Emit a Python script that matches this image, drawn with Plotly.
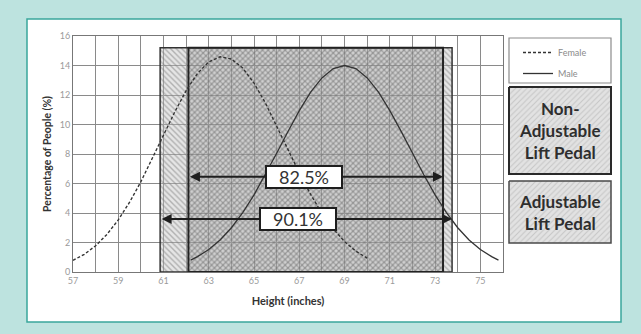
import plotly.graph_objects as go

# ---------------- data ----------------
female_x = [57, 57.5, 58, 58.5, 59, 59.5, 60, 60.5, 61, 61.5, 62, 62.5, 63, 63.5,
            64, 64.5, 65, 65.5, 66, 66.5, 67, 67.5, 68, 68.5, 69, 69.5, 70]
female_y = [0.79, 1.20, 1.78, 2.55, 3.53, 4.73, 6.12, 7.66, 9.28, 10.86, 12.30, 13.46, 14.25, 14.59,
            14.44, 13.83, 12.80, 11.46, 9.92, 8.30, 6.72, 5.26, 3.98, 2.92, 2.06, 1.41, 0.94]

male_x = [62.2, 62.5, 63, 63.5, 64, 64.5, 65, 65.5, 66, 66.5, 67, 67.5, 68, 68.5, 69,
          69.5, 70, 70.5, 71, 71.5, 72, 72.5, 73, 73.5, 74, 74.5, 75, 75.5, 75.8]
male_y = [0.81, 1.04, 1.53, 2.17, 3.00, 4.03, 5.23, 6.59, 8.05, 9.53, 10.94, 12.19, 13.16, 13.79, 14.0,
          13.79, 13.16, 12.19, 10.94, 9.53, 8.05, 6.59, 5.23, 4.03, 3.00, 2.17, 1.53, 1.04, 0.81]

adjustable_range = [60.85, 73.75]       # inches
non_adjustable_range = [62.1, 73.35]    # inches
pedal_top = 15.2                        # %
coverage_labels = ["82.5%", "90.1%"]
coverage_levels = [6.45, 3.6]           # arrow heights (%)
coverage_label_x = [67.2, 66.93]

x_ticks = [57, 59, 61, 63, 65, 67, 69, 71, 73, 75]
y_ticks = [0, 2, 4, 6, 8, 10, 12, 14, 16]

# ---------------- layout geometry (pixels) ----------------
W, H = 641, 334
L, R, T, B = 73, 612, 36, 272          # plot area incl. side panel
MAIN_R = 503                           # right edge of chart area
PW, PH = R - L, B - T

def fx(px):
    return (px - L) / PW

def fy(py):
    return (B - py) / PH

FONT = "Lato"

fig = go.Figure()

# adjustable pedal region (single diagonal hatch)
ax0, ax1 = adjustable_range
fig.add_trace(go.Scatter(
    x=[ax0, ax1, ax1, ax0, ax0], y=[0, 0, pedal_top, pedal_top, 0],
    mode="lines", fill="toself", line=dict(color="#333333", width=1.5),
    fillcolor="rgba(190,190,190,0.35)",
    fillpattern=dict(shape="\\", fgcolor="#7c7c7c", bgcolor="rgba(190,190,190,0.4)",
                     size=4, solidity=0.35),
    showlegend=False, hoverinfo="skip"))

# non-adjustable pedal region (adds other diagonal -> crosshatch)
nx0, nx1 = non_adjustable_range
fig.add_trace(go.Scatter(
    x=[nx0, nx1, nx1, nx0, nx0], y=[0, 0, pedal_top, pedal_top, 0],
    mode="lines", fill="toself", line=dict(color="#222222", width=2),
    fillcolor="rgba(0,0,0,0)",
    fillpattern=dict(shape="/", fgcolor="#707070", bgcolor="rgba(140,140,140,0.25)",
                     size=4, solidity=0.35),
    showlegend=False, hoverinfo="skip"))

# distributions
fig.add_trace(go.Scatter(x=female_x, y=female_y, mode="lines", name="Female",
                         legendgroup="f",
                         line=dict(color="#333333", width=1.4, dash="3px,2px")))
fig.add_trace(go.Scatter(x=male_x, y=male_y, mode="lines", name="Male",
                         legendgroup="m",
                         line=dict(color="#333333", width=1.3)))

# side-panel boxes on a pixel-scaled overlay axis
side_boxes = [
    dict(y0=87, y1=174, text="Non-<br>Adjustable<br>Lift Pedal", border="#2a2a2a", bw=2),
    dict(y0=181, y1=243, text="Adjustable<br>Lift Pedal", border="#4a4a4a", bw=1.5),
]
for bx in side_boxes:
    fig.add_trace(go.Scatter(
        x=[509, 611, 611, 509, 509], y=[bx["y0"], bx["y0"], bx["y1"], bx["y1"], bx["y0"]],
        xaxis="x2", yaxis="y2", mode="lines", fill="toself",
        line=dict(color=bx["border"], width=bx["bw"]),
        fillcolor="rgba(230,230,230,1)",
        fillpattern=dict(shape="/", fgcolor="#a8a8a8", bgcolor="#e2e2e2", size=4, solidity=0.25),
        showlegend=False, hoverinfo="skip"))

annotations = []
for bx in side_boxes:
    annotations.append(dict(
        x=560, y=(bx["y0"] + bx["y1"]) / 2, xref="x2", yref="y2", text="<b>" + bx["text"] + "</b>",
        showarrow=False, font=dict(family=FONT, size=17, color="#2e2e2e"), align="center"))

# coverage arrows (double headed)
arrow_ranges = [non_adjustable_range, adjustable_range]
for (a0, a1), lvl, lab, lx in zip(arrow_ranges, coverage_levels, coverage_labels, coverage_label_x):
    annotations.append(dict(
        x=a1, y=lvl, ax=a0, ay=lvl, xref="x", yref="y", axref="x", ayref="y",
        text="", showarrow=True, arrowhead=2, arrowsize=1, arrowwidth=2,
        arrowside="end+start", arrowcolor="#1e1e1e", standoff=0, startstandoff=0))
    annotations.append(dict(
        x=lx, y=lvl, xref="x", yref="y", text=lab, showarrow=False,
        font=dict(family=FONT, size=18, color="#333333"),
        bgcolor="white", bordercolor="#1e1e1e", borderwidth=2, borderpad=1,
        width=72, height=18))

shapes = [
    # white inner panel with teal border
    dict(type="rect", xref="paper", yref="paper", x0=fx(27), x1=fx(621), y0=fy(322), y1=fy(19),
         fillcolor="white", line=dict(color="#3aa79c", width=1.5), layer="below"),
    # legend frame
    dict(type="rect", xref="x2", yref="y2", x0=509, x1=611, y0=38, y1=83,
         fillcolor="white", line=dict(color="#8c8c8c", width=1.2), layer="below"),
]

grid_col = "#8a8a8a"
fig.update_layout(
    width=W, height=H,
    margin=dict(l=L, r=W - R, t=T, b=H - B),
    paper_bgcolor="#bde3df",
    plot_bgcolor="rgba(0,0,0,0)",
    showlegend=True,
    legend=dict(x=fx(518), y=fy(38), xanchor="left", yanchor="top",
                bgcolor="rgba(0,0,0,0)", borderwidth=0,
                font=dict(family=FONT, size=9, color="#8a8a8a"),
                tracegroupgap=2, itemwidth=30),
    xaxis=dict(domain=[0, fx(MAIN_R)], range=[57, 76], tickvals=x_ticks,
               ticktext=[str(v) for v in x_ticks], showgrid=True, gridcolor=grid_col, gridwidth=1,
               minor=dict(dtick=1, tick0=57, showgrid=True, gridcolor=grid_col, gridwidth=1),
               showline=True, linecolor="#777777", linewidth=1, mirror=True,
               zeroline=False, ticks="", tickfont=dict(family=FONT, size=9, color="#9a9a9a"),
               title=dict(text="<b>Height (inches)</b>", standoff=12,
                          font=dict(family=FONT, size=11, color="#333333"))),
    yaxis=dict(range=[0, 16], tickvals=y_ticks, showgrid=True, gridcolor=grid_col, gridwidth=1,
               showline=True, linecolor="#777777", linewidth=1, mirror=True,
               zeroline=False, ticks="", tickfont=dict(family=FONT, size=9, color="#9a9a9a"),
               title=dict(text="<b>Percentage of People (%)</b>", standoff=6,
                          font=dict(family=FONT, size=10.5, color="#333333"))),
    xaxis2=dict(domain=[fx(500), 1], range=[500, 612], anchor="y2",
                visible=False, fixedrange=True),
    yaxis2=dict(domain=[0, 1], range=[B, T], anchor="x2", visible=False, fixedrange=True),
    annotations=annotations,
    shapes=shapes,
)

fig.write_html("out.html", config={"displayModeBar": False},
               post_script="document.body.style.margin='0';")
